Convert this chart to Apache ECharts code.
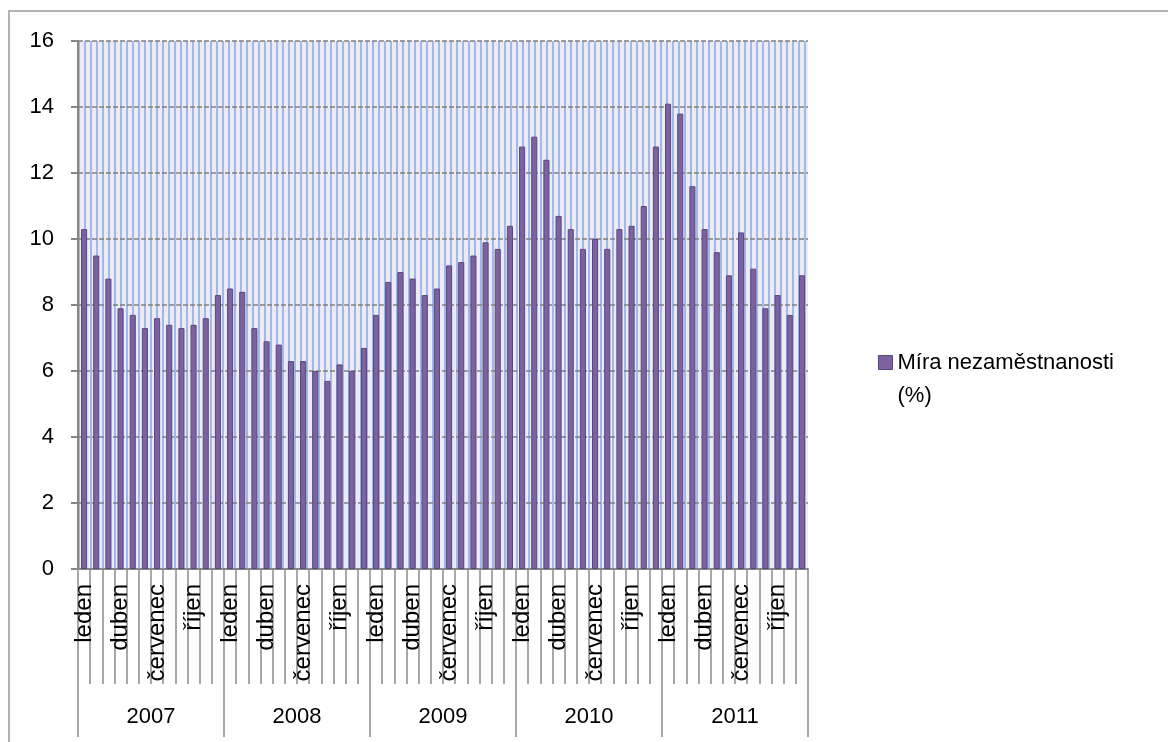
<!DOCTYPE html>
<html>
<head>
<meta charset="utf-8">
<script src="https://cdn.jsdelivr.net/npm/echarts@6/dist/echarts.min.js"></script>
<style>
html,body{margin:0;padding:0;background:#fff;}
#chart{width:1168px;height:742px;}
</style>
</head>
<body>
<div id="chart"></div>
<script>
// ---- data ----
var years = ['2007', '2008', '2009', '2010', '2011'];
var monthNames = ['leden', 'únor', 'březen', 'duben', 'květen', 'červen', 'červenec', 'srpen', 'září', 'říjen', 'listopad', 'prosinec'];
var yTicks = [0, 2, 4, 6, 8, 10, 12, 14, 16];
var seriesName = 'Míra nezaměstnanosti (%)';
var legendLines = ['Míra nezaměstnanosti', '(%)'];
var values2007 = [10.3, 9.5, 8.8, 7.9, 7.7, 7.3, 7.6, 7.4, 7.3, 7.4, 7.6, 8.3];
var values2008 = [8.5, 8.4, 7.3, 6.9, 6.8, 6.3, 6.3, 6.0, 5.7, 6.2, 6.0, 6.7];
var values2009 = [7.7, 8.7, 9.0, 8.8, 8.3, 8.5, 9.2, 9.3, 9.5, 9.9, 9.7, 10.4];
var values2010 = [12.8, 13.1, 12.4, 10.7, 10.3, 9.7, 10.0, 9.7, 10.3, 10.4, 11.0, 12.8];
var values2011 = [14.1, 13.8, 11.6, 10.3, 9.6, 8.9, 10.2, 9.1, 7.9, 8.3, 7.7, 8.9];

// ---- build ----
var months = [];
years.forEach(function () { months = months.concat(monthNames); });
var values = [].concat(values2007, values2008, values2009, values2010, values2011);

var pat = document.createElement('canvas');
pat.width = 6; pat.height = 8;
var ctx = pat.getContext('2d');
ctx.fillStyle = '#ECEBF3'; ctx.fillRect(0, 0, 6, 8);
ctx.fillStyle = '#9FBAE8'; ctx.fillRect(0, 0, 2, 8);

var FONT = 'Liberation Sans';
var chart = echarts.init(document.getElementById('chart'));
chart.setOption({
  backgroundColor: '#ffffff',
  animation: false,
  textStyle: { fontFamily: FONT },
  grid: {
    left: 78, right: 360, top: 41, bottom: 173,
    show: true,
    backgroundColor: { image: pat, repeat: 'repeat' },
    borderWidth: 0
  },
  legend: {
    show: true,
    orient: 'vertical',
    left: 873, top: 308,
    itemWidth: 14, itemHeight: 14,
    icon: 'rect',
    itemStyle: { borderColor: '#5B4680', borderWidth: 1 },
    formatter: function () { return '\n' + legendLines.join('\n'); },
    textStyle: { fontFamily: FONT, fontSize: 22, color: '#000', lineHeight: 33 },
    data: [seriesName]
  },
  xAxis: [{
    type: 'category',
    data: months,
    boundaryGap: true,
    axisLine: { show: true, lineStyle: { color: '#868686', width: 2 } },
    axisTick: { show: true, interval: 0, length: 115, lineStyle: { color: '#8c8c8c', width: 1.5 } },
    axisLabel: { interval: 2, rotate: 90, margin: 15, fontSize: 24, color: '#000', fontFamily: FONT },
    splitLine: { show: false }
  }, {
    type: 'category',
    data: years,
    position: 'bottom',
    offset: 115,
    boundaryGap: true,
    axisLine: { show: false },
    axisTick: { show: true, interval: 0, length: 53, lineStyle: { color: '#8c8c8c', width: 1.5 } },
    axisLabel: { interval: 0, margin: 22, fontSize: 22, color: '#000', fontFamily: FONT },
    splitLine: { show: false }
  }],
  yAxis: {
    type: 'value',
    min: 0, max: 16, interval: 2,
    axisLine: { show: true, lineStyle: { color: '#868686', width: 2 } },
    axisTick: { show: true, length: 7, lineStyle: { color: '#868686', width: 2 } },
    axisLabel: { margin: 24, fontSize: 22, color: '#000', fontFamily: FONT,
      formatter: function (v) { return yTicks.indexOf(v) >= 0 ? String(v) : ''; } },
    splitLine: { show: true, lineStyle: { color: '#808080', width: 1.6, type: [5, 2] } }
  },
  series: [{
    name: seriesName,
    type: 'bar',
    xAxisIndex: 0,
    data: values,
    barWidth: '50%',
    itemStyle: { color: '#7C62A0', borderColor: '#5B4680', borderWidth: 1 }
  }],
  graphic: [{
    type: 'polyline',
    silent: true,
    shape: { points: [[9, 760], [9, 11], [1168, 11]] },
    style: { stroke: '#9a9a9a', lineWidth: 1.5, fill: null }
  }]
});
</script>
</body>
</html>
